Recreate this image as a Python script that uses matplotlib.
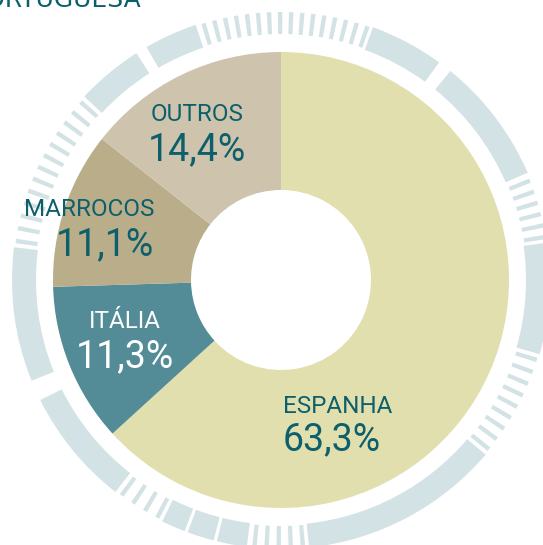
import matplotlib
matplotlib.use("Agg")
import matplotlib.pyplot as plt
from matplotlib.patches import Wedge
import numpy as np

# ---- data ----
categories = ["ESPANHA", "ITÁLIA", "MARROCOS", "OUTROS"]
values = [63.3, 11.3, 11.1, 14.4]
value_labels = ["63,3%", "11,3%", "11,1%", "14,4%"]
colors = ["#e2dfae", "#538c97", "#b9ad8a", "#cec3ad"]
text_colors = ["#0d5f6b", "#ffffff", "#0d5f6b", "#0d5f6b"]
title = "PORTUGUESA"

# ---- decoration of the outer ring (angles in degrees, ccw from east) ----
ring_arcs = [(54, 70), (23.5, 51), (-16, 8), (-84, -40.5), (206.5, 232),
             (173, 202), (122.5, 137), (108.5, 120)]
ring_blocks = [(-103.8, -97.3), (-110.3, -104.5), (-116.2, -111)]
tick_groups = [(70, 108, 16), (137, 173, 13), (-128, -116, 4),
               (-97, -84, 5), (-40.5, -16, 9), (8, 23, 6)]

W, H = 543, 545
fig = plt.figure(figsize=(W / 100, H / 100), dpi=100)
ax = fig.add_axes([0, 0, 1, 1])
ax.set_xlim(0, W)
ax.set_ylim(0, H)
ax.axis("off")

cx, cy = 281, H - 280
R, r_hole = 228, 90

ax.pie(values, colors=colors, startangle=90, counterclock=False,
       center=(cx, cy), radius=R,
       wedgeprops=dict(width=R - r_hole, linewidth=0))

ring_col = "#d3e2e5"
r_in, r_out = 245, 269
for a0, a1 in ring_arcs + ring_blocks:
    ax.add_patch(Wedge((cx, cy), r_out, a0, a1, width=r_out - r_in,
                       facecolor=ring_col, edgecolor="none"))
tick_w = 0.95
for a0, a1, n in tick_groups:
    step = (a1 - a0) / n
    for i in range(n):
        c = a0 + step * (i + 0.5)
        ax.add_patch(Wedge((cx, cy), r_out - 1, c - tick_w / 2, c + tick_w / 2,
                           width=r_out - r_in - 2, facecolor=ring_col,
                           edgecolor="none"))

ax.set_xlim(0, W)
ax.set_ylim(0, H)
ax.set_aspect("auto")

font = "Roboto"
name_fs = 17.5
val_fs = 27
# (x, ha, name baseline, value baseline)
label_pos = [(283, "left", 132, 95),
             (125, "center", 217, 178),
             (154, "right", 329, 290),
             (197, "center", 424, 385)]
for cat, vl, tc, (x, ha, yn, yv) in zip(categories, value_labels, text_colors, label_pos):
    ax.text(x, yn, cat, ha=ha, va="baseline", fontsize=name_fs, color=tc,
            family=font)
    ax.text(x, yv, vl, ha=ha, va="baseline", fontsize=val_fs, color=tc,
            family=font)

ax.text(141, 538, title, ha="right", va="baseline", fontsize=18,
        color="#0d5f6b", family="DejaVu Sans")

fig.savefig("out.png", dpi=100)
